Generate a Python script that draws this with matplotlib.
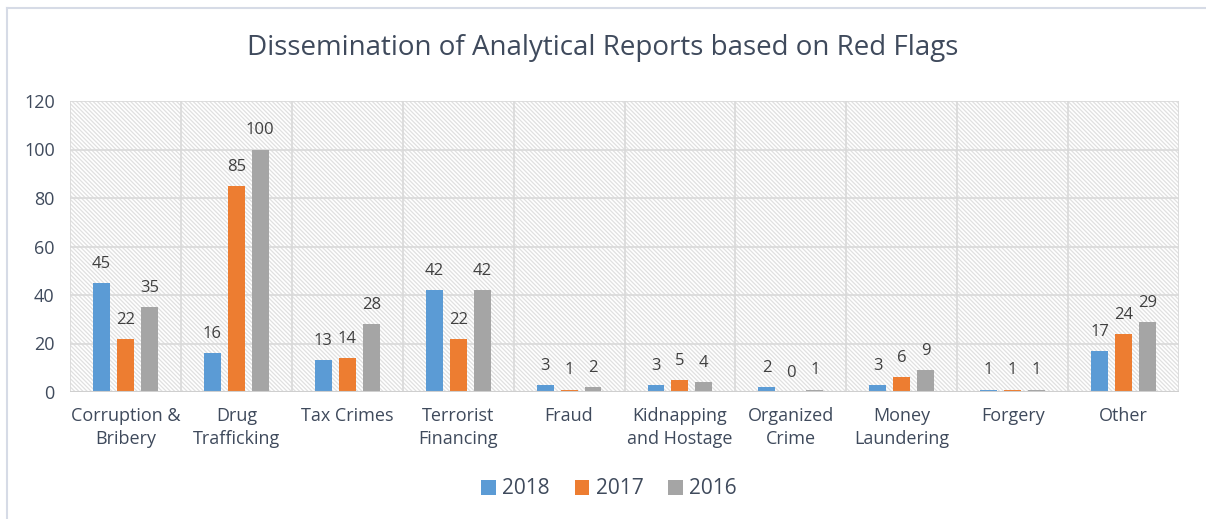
import numpy as np
import matplotlib.pyplot as plt
from matplotlib.lines import Line2D
from matplotlib.patches import Rectangle

categories = ["Corruption &\nBribery", "Drug\nTrafficking", "Tax Crimes", "Terrorist\nFinancing",
              "Fraud", "Kidnapping\nand Hostage", "Organized\nCrime", "Money\nLaundering",
              "Forgery", "Other"]
v2018 = [45, 16, 13, 42, 3, 3, 2, 3, 1, 17]
v2017 = [22, 85, 14, 22, 1, 5, 0, 6, 1, 24]
v2016 = [35, 100, 28, 42, 2, 4, 1, 9, 1, 29]
series = [("2018", v2018, "#5B9BD5"), ("2017", v2017, "#ED7D31"), ("2016", v2016, "#A5A5A5")]

plt.rcParams['font.family'] = ['Open Sans', 'DejaVu Sans']
plt.rcParams['hatch.linewidth'] = 0.9
txt = '#3f4a5c'
grid = '#d9d9d9'

fig = plt.figure(figsize=(12.06, 5.19), dpi=100)
ax = fig.add_axes([70/1206, 1-392/519, 1109/1206, 291/519])

x = np.arange(len(categories))
ax.set_xlim(-0.5, len(categories) - 0.5)
ax.set_ylim(0, 120)

# hatched plot area background
ax.add_patch(Rectangle((-0.5, 0), len(categories), 120, facecolor='white',
                       edgecolor='#e0e0e0', hatch='\\' * 8, lw=0, zorder=0))

for y in range(20, 121, 20):
    ax.axhline(y, color=grid, lw=1.2, zorder=1)
for b in np.arange(-0.5, len(categories), 1):
    ax.axvline(b, color=grid, lw=1.2, zorder=1)
ax.axhline(0, color='#cfcfcf', lw=1.5, zorder=3)

w = 0.153
pitch = 0.216
for i, (name, vals, col) in enumerate(series):
    pos = x + (i - 1) * pitch
    ax.bar(pos, vals, width=w, color=col, label=name, zorder=2)
    for p, v in zip(pos, vals):
        ax.annotate(str(v), (p, v), xytext=(0, 8), textcoords='offset points',
                    ha='center', va='bottom', fontsize=12, color='#404040')

for s in ax.spines.values():
    s.set_visible(False)
ax.set_xticks(x)
ax.set_xticklabels(categories, fontsize=13, color=txt, linespacing=1.35)
ax.set_yticks(range(0, 121, 20))
ax.tick_params(axis='y', labelsize=13, labelcolor=txt, length=0, pad=11)
ax.tick_params(axis='x', length=0, pad=11)

fig.text(0.5, 1-48/519, "Dissemination of Analytical Reports based on Red Flags",
         ha='center', va='center', fontsize=20, color=txt)

fig.legend(loc='center', bbox_to_anchor=(0.505, 1-489/519), ncol=3, frameon=False,
           fontsize=15, handlelength=0.7, handleheight=0.7, handletextpad=0.3,
           columnspacing=1.2, labelcolor=txt)

# thin frame lines on the left and top of the chart area
fig.add_artist(Line2D([7/1206, 7/1206], [0, 1-8/519], color='#d6dbe6', lw=1.5))
fig.add_artist(Line2D([7/1206, 1], [1-8/519, 1-8/519], color='#d6dbe6', lw=1.5))

fig.savefig('out.png', dpi=100)
